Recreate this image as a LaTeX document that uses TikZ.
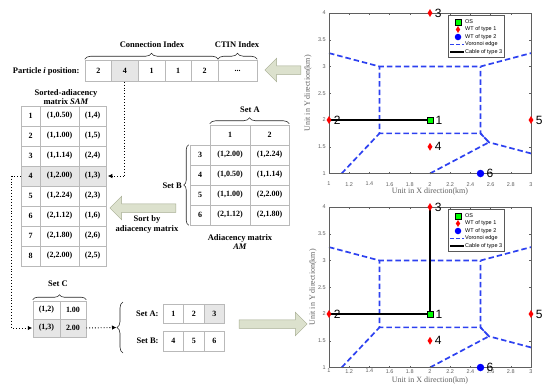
\documentclass[tikz,border=0pt]{standalone}
\usepackage{fontspec}
\setmainfont{Liberation Serif}
\setsansfont{Liberation Sans}
\usetikzlibrary{positioning,calc,arrows.meta,backgrounds,decorations.pathreplacing,shapes.arrows,shapes.geometric}
\definecolor{cellline}{RGB}{185,185,185}
\definecolor{cellshade}{RGB}{230,230,230}
\definecolor{bigfill}{RGB}{220,225,205}
\definecolor{bigline}{RGB}{165,172,145}
\definecolor{axgray}{RGB}{95,95,95}
\definecolor{vorblue}{RGB}{45,65,240}
\tikzset{
  cell/.style ={rectangle, draw=cellline, line width=0.5pt, minimum height=20pt, inner sep=0pt, font=\fontsize{8}{9}\selectfont\bfseries},
  ttl/.style  ={align=center, inner sep=1pt, font=\fontsize{8.5}{9.5}\selectfont\bfseries},
  brc/.style  ={decorate, decoration={brace, amplitude=5pt, raise=1pt}, draw=black!85, line width=0.6pt},
  dt/.style   ={dotted, line width=0.9pt, -{Latex[length=4.5pt, width=4.5pt]}},
  big/.style  ={single arrow, draw=bigline, fill=bigfill, line width=0.5pt, minimum height=36pt, minimum width=23pt, single arrow head extend=7.5pt, inner sep=4pt},
  vor/.style  ={draw=vorblue, dash pattern=on 5.5pt off 3pt, line width=1.7pt},
  cab/.style  ={draw=black, line width=2pt},
  axs/.style  ={draw=axgray, line width=0.45pt},
  tk/.style   ={inner sep=0pt, text=axgray, font=\sffamily\fontsize{5.5}{6}\selectfont},
  axl/.style  ={inner sep=0pt, text=axgray, font=\fontsize{8}{9}\selectfont},
  num/.style  ={inner sep=0pt, font=\sffamily\fontsize{12}{12}\selectfont},
  os/.style   ={rectangle, fill=green, draw=black, line width=0.4pt, minimum size=6.5pt, inner sep=0pt},
  wta/.style  ={diamond, fill=red, minimum width=5pt, minimum height=8pt, inner sep=0pt},
  wtb/.style  ={circle, fill=blue, minimum size=7.5pt, inner sep=0pt},
  lgbox/.style={rectangle, draw=black!65, fill=white, line width=0.4pt, minimum width=56pt, minimum height=42pt, inner sep=0pt},
  lgt/.style  ={anchor=west, inner sep=0pt, font=\sffamily\fontsize{5.5}{6}\selectfont},
}
\begin{document}
\begin{tikzpicture}[x=1pt, y=-1pt, node distance=3pt]
\useasboundingbox (0,0) rectangle (550,391);
% particle position
\foreach \v [count=\k] in {2,4,1,1,2}
  \node[cell, minimum width=26.6pt, minimum height=21pt] (pp\k) at (71.7+26.6*\k,71) {\v};
\node[cell, minimum width=39pt, minimum height=21pt] (pp6) at (237.5,71) {...};
\node[ttl, left=4pt of pp1] (ppl) {Particle \textit{i} position:};
\draw[brc, decoration={amplitude=6pt}] (pp1.north west) -- (pp5.north east);
\draw[brc, decoration={amplitude=6pt}] (pp6.north west) -- (pp6.north east);
\node[ttl] (conidx) at (152,45) {Connection Index};
\node[ttl] (ctinidx) at (237,45) {CTIN Index};
% sorted-adiacency matrix
\node[ttl] (samt) at (66,97) {Sorted-adiacency\\matrix \textit{SAM}};
\foreach \a/\b [count=\k] in {{(1,0.50)}/{(1,4)}, {(1,1.00)}/{(1,5)}, {(1,1.14)}/{(2,4)}, {(1,2.00)}/{(1,3)},
    {(1,2.24)}/{(2,3)}, {(2,1.12)}/{(1,6)}, {(2,1.80)}/{(2,6)}, {(2,2.00)}/{(2,5)}} {
  \node[cell, minimum width=19pt] (s\k-i) at (30.5,96+20*\k) {\k};
  \node[cell, minimum width=39pt] (s\k-a) at (59.5,96+20*\k) {\a};
  \node[cell, minimum width=27pt] (s\k-b) at (92.5,96+20*\k) {\b};
}
% adiacency matrix
\node[cell, minimum width=40pt] (ah1) at (230,135) {1};
\node[cell, minimum width=39pt] (ah2) at (269.5,135) {2};
\foreach \r/\a/\b in {3/{(1,2.00)}/{(1,2.24)}, 4/{(1,0.50)}/{(1,1.14)}, 5/{(1,1.00)}/{(2,2.00)}, 6/{(2,1.12)}/{(2,1.80)}} {
  \node[cell, minimum width=20pt] (m\r-i) at (200,95+20*\r) {\r};
  \node[cell, minimum width=40pt] (m\r-a) at (230,95+20*\r) {\a};
  \node[cell, minimum width=39pt] (m\r-b) at (269.5,95+20*\r) {\b};
}
\draw[brc, decoration={amplitude=6pt}] (ah1.north west) -- (ah2.north east);
\node[ttl] (seta) at (250,110) {Set A};
\draw[brc] (m6-i.south west) -- (m3-i.north west);
\node[ttl, anchor=east] (setb) at (183,186) {Set B};
\node[ttl] (amt) at (240,242) {Adiacency matrix\\\textit{AM}};
\node[big, shape border rotate=180, minimum height=66pt] (sortarr) at (145,208) {};
\node[ttl] (sortt) at (147,224.5) {Sort by\\adiacency matrix};
% set C and the two sets
\node[cell, minimum width=27pt, minimum height=18pt] (c1-a) at (46.5,310) {(1,2)};
\node[cell, minimum width=26pt, minimum height=18pt] (c1-b) at (73,310) {1.00};
\node[cell, minimum width=27pt, minimum height=18pt] (c2-a) at (46.5,328) {(1,3)};
\node[cell, minimum width=26pt, minimum height=18pt] (c2-b) at (73,328) {2.00};
\draw[brc] (c1-a.north west) -- (c1-b.north east);
\node[ttl] (setc) at (58,284) {Set C};
\foreach \v [count=\k] in {1,2,3}
  \node[cell, minimum width=20.5pt, minimum height=19.5pt] (la\k) at (152.75+20.5*\k,313.5) {\v};
\foreach \v [count=\k] in {4,5,6}
  \node[cell, minimum width=20.5pt, minimum height=19.5pt] (lb\k) at (152.75+20.5*\k,341) {\v};
\node[ttl, left=3pt of la1] (setal) {Set A:};
\node[ttl, left=3pt of lb1] (setbl) {Set B:};
\draw[brc, decoration={amplitude=6pt, raise=0pt}] (123,353) -- (123,302);
\coordinate (lst) at (116.5,327.5);
\begin{scope}[on background layer]
\fill[cellshade] (pp2.north west) rectangle (pp2.south east);
\fill[cellshade] (s4-i.north west) rectangle (s4-b.south east);
\fill[cellshade] (c2-a.north west) rectangle (c2-b.south east);
\fill[cellshade] (la3.north west) rectangle (la3.south east);
\end{scope}
\draw[dt] (pp2.south) |- ([xshift=1.5pt]s4-b.east);
\draw[dt] (s4-i.west) -- ++(-9,0) |- ([xshift=-0.5pt]c2-a.west);
\draw[dt] (c2-b.east) -- (lst);
\node[big, shape border rotate=180] (toppos) at (285,70) {};
\node[big, minimum height=68pt] (tonext) at (271,324) {};
% the two layouts
\foreach \pn/\py/\tl/\al/\yl in {a/13/8.5pt/18pt/21pt, b/207/1.5pt/13pt/16pt} {
\begin{scope}[shift={(228,\py+214)}, x=101pt, y=53.5pt]
  \draw[axs] (1,1) rectangle (3,4);
  \foreach \t [count=\i] in {1,1.2,1.4,1.6,1.8,2,2.2,2.4,2.6,2.8,3} {
    \draw[axs] (\t,1) -- ++(0,2pt) (\t,4) -- ++(0,-2pt);
    \node[tk, anchor=north] (\pn x\i) at ([yshift=-\tl]\t,1) {\t};
  }
  \foreach \t [count=\i] in {1,1.5,2,2.5,3,3.5,4} {
    \draw[axs] (1,\t) -- ++(2pt,0) (3,\t) -- ++(-2pt,0);
    \node[tk, anchor=east] (\pn y\i) at ([xshift=-3pt]1,\t) {\t};
  }
  \node[axl] (\pn xl) at ([yshift=-\al]2,1) {Unit in X direction(km)};
  \node[axl, rotate=90] (\pn yl) at ([xshift=-\yl]1,2.5) {Unit in Y direction(km)};
  \foreach \k/\X/\Y/\sty in {1/2/2/os, 2/1/2/wta, 3/2/4/wta, 4/2/1.5/wta, 5/3/2/wta, 6/2.5/1/wtb} {
    \node[\sty] (\pn\k) at (\X,\Y) {};
    \node[num, right=2pt of \pn\k] (\pn n\k) {\k};
  }
  \begin{scope}[on background layer]
  \draw[vor] (1,3.25) -- (1.5,3) -- (2.5,3) -- (3,3.25);
  \draw[vor] (1.125,1) -- (1.5,1.75) -- (1.5,3);
  \draw[vor] (2,1) -- (2.5833,1.5833) -- (2.5,1.75) -- (2.5,3);
  \draw[vor] (3,1.375) -- (2.5833,1.5833) -- (2.5,1.75) -- (1.5,1.75);
  \draw[cab] (\pn2.center) -- (\pn1.center);
  \end{scope}
\end{scope}
\node[lgbox] (\pn leg) at (476,\py+23) {};
\node[os] (\pn lg1) at (458,\py+9) {};
\node[wta, minimum height=7pt, minimum width=4.5pt] (\pn lg2) at (458,\py+16.5) {};
\node[wtb, minimum size=6.5pt] (\pn lg3) at (458,\py+24) {};
\draw[vor, dash pattern=on 4pt off 2pt, line width=1.3pt] (450,\py+31.5) -- (464,\py+31.5);
\draw[cab] (450,\py+39) -- (464,\py+39);
\node[lgt] (\pn lt1) at (465,\py+9) {OS};
\node[lgt] (\pn lt2) at (465,\py+16.5) {WT of type 1};
\node[lgt] (\pn lt3) at (465,\py+24) {WT of type 2};
\node[lgt] (\pn lt4) at (465,\py+31.5) {Voronoi edge};
\node[lgt] (\pn lt5) at (465,\py+39) {Cable of type 3};
}
\begin{scope}[on background layer]
\draw[cab] (b1.center) -- (b3.center);
\end{scope}
\end{tikzpicture}
\end{document}
